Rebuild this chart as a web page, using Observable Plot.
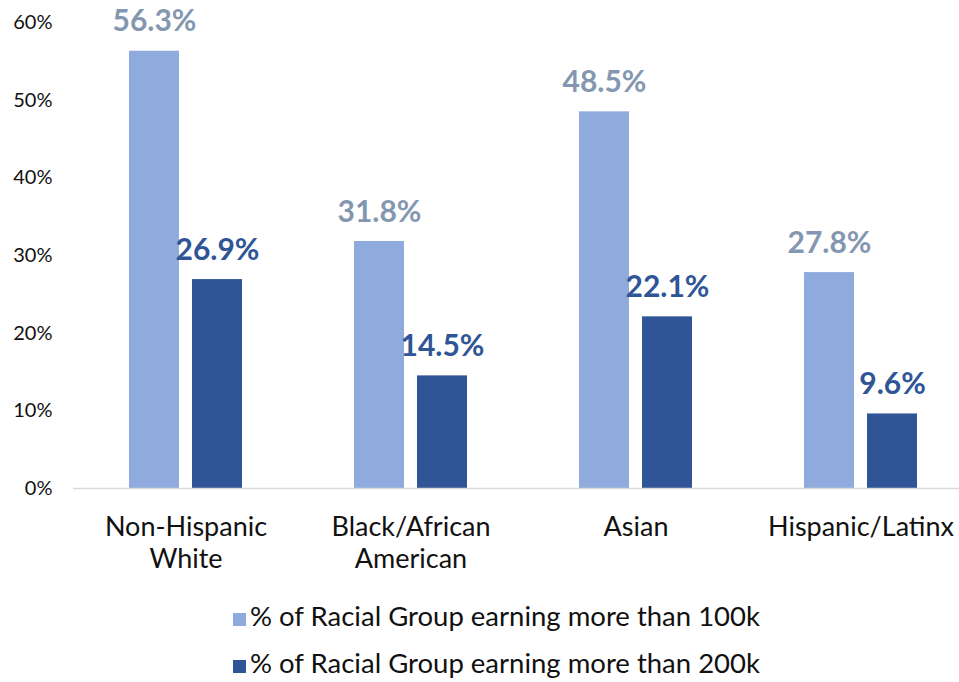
<!DOCTYPE html>
<html>
<head>
<meta charset="utf-8">
<script src="https://cdn.jsdelivr.net/npm/d3@7"></script>
<script src="https://cdn.jsdelivr.net/npm/@observablehq/plot@0.6"></script>
<style>
  html, body { margin: 0; padding: 0; background: #fff; }
  body { width: 959px; height: 682px; overflow: hidden; font-family: "Gill Sans MT", "Gill Sans", Lato, sans-serif; }
  #chart svg { display: block; }
  #legend { position: relative; height: 102px; }
  .item { position: absolute; left: 233px; display: flex; align-items: center; font-size: 27.5px; line-height: 32px; color: #111; white-space: nowrap; }
  .sw { width: 13px; height: 13px; margin-right: 4px; margin-top: 6px; flex: none; }
</style>
</head>
<body>
<div id="chart"></div>
<div id="legend"></div>
<script>
const categories = ["Non-Hispanic\nWhite", "Black/African\nAmerican", "Asian", "Hispanic/Latinx"];
const series = ["% of Racial Group earning more than 100k", "% of Racial Group earning more than 200k"];
const pct100k = [56.3, 31.8, 48.5, 27.8];
const pct200k = [26.9, 14.5, 22.1, 9.6];
const yTicks = [0, 10, 20, 30, 40, 50, 60];
const barColors = ["#8FAADC", "#2F5597"];
const labelColors = ["#8497B0", "#2F5597"];

const rows = [];
categories.forEach((c, i) => {
  rows.push({category: c, series: series[0], value: pct100k[i]});
  rows.push({category: c, series: series[1], value: pct200k[i]});
});

const font = '"Gill Sans MT", "Gill Sans", Lato, sans-serif';

const chart = Plot.plot({
  width: 959,
  height: 580,
  marginTop: 22,
  marginBottom: 92,
  marginLeft: 73,
  marginRight: 0,
  style: {fontFamily: font, background: "#fff", overflow: "hidden"},
  fx: {domain: categories, range: [73, 973], padding: 0, label: null},
  x: {domain: series, paddingInner: 0.2, paddingOuter: 0.86, axis: null},
  y: {domain: [0, 60], axis: null},
  color: {domain: series, range: barColors},
  marks: [
    Plot.axisY(yTicks, {tickSize: 0, tickPadding: 21, tickFormat: d => d + "%", fontSize: 20, fill: "#111", label: null, anchor: "left"}),
    Plot.axisFx({anchor: "bottom", tickSize: 0, tickPadding: 24, fontSize: 27, lineHeight: 1.2, fill: "#111", lineAnchor: "top", label: null}),
    Plot.barY(rows, {fx: "category", x: "series", y: "value", fill: "series"}),
    Plot.ruleY([0], {stroke: "#D9D9D9", strokeWidth: 1.5}),
    Plot.text(rows, {fx: "category", x: "series", y: "value", text: d => d.value.toFixed(1) + "%",
      dy: -20, lineAnchor: "bottom", fontSize: 30, fontWeight: "bold",
      fill: d => labelColors[series.indexOf(d.series)]})
  ]
});
document.getElementById("chart").appendChild(chart);

const legend = document.getElementById("legend");
series.forEach((s, i) => {
  const item = document.createElement("div");
  item.className = "item";
  item.style.top = (i === 0 ? 20 : 67) + "px";
  const sw = document.createElement("span");
  sw.className = "sw";
  sw.style.background = barColors[i];
  const t = document.createElement("span");
  t.textContent = s;
  item.appendChild(sw);
  item.appendChild(t);
  legend.appendChild(item);
});
</script>
</body>
</html>
